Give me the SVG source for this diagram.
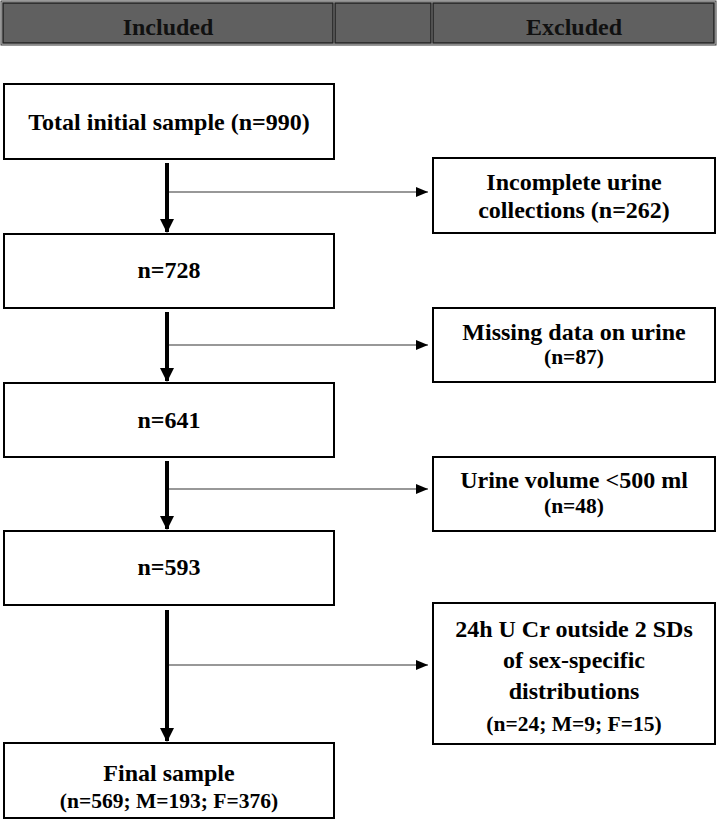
<svg xmlns="http://www.w3.org/2000/svg" width="717" height="820" viewBox="0 0 717 820">
<defs>
<style>
.box{fill:#fff;stroke:#000;stroke-width:2}
.hdr{fill:#606060;stroke:#222;stroke-width:1.5}
.t{font-family:"Liberation Serif","Times New Roman",serif;font-weight:bold;font-size:24px;fill:#000;text-anchor:middle}
.s{font-size:21.5px}
.h{font-family:"Liberation Serif","Times New Roman",serif;font-weight:bold;font-size:24px;fill:#111;text-anchor:middle}
.main{stroke:#000;stroke-width:4;fill:none}
.side{stroke:#333;stroke-width:1.2;fill:none}
</style>
<marker id="big" viewBox="0 0 14 14" refX="13" refY="7" markerWidth="14" markerHeight="14" markerUnits="userSpaceOnUse" orient="auto"><path d="M0,0L14,7L0,14Z" fill="#000"/></marker>
<marker id="sm" viewBox="0 0 12 10" refX="12" refY="5" markerWidth="12" markerHeight="10" markerUnits="userSpaceOnUse" orient="auto"><path d="M0,0L12,5L0,10Z" fill="#000"/></marker>
</defs>
<g id="header">
<rect x="1" y="1" width="715" height="44" fill="#e0e0e0" stroke="#333" stroke-width="1"/>
<rect class="hdr" x="3" y="3" width="330" height="40"/>
<rect class="hdr" x="335" y="3" width="96" height="40"/>
<rect class="hdr" x="433" y="3" width="281" height="40"/>
<text class="h" x="168" y="35">Included</text>
<text class="h" x="574" y="35">Excluded</text>
</g>
<g id="connectors">
<path class="main" d="M167,163V232" marker-end="url(#big)"/>
<path class="main" d="M167,312V381" marker-end="url(#big)"/>
<path class="main" d="M167,461V529" marker-end="url(#big)"/>
<path class="main" d="M167,610V741" marker-end="url(#big)"/>
<path class="side" d="M169,192H428" marker-end="url(#sm)"/>
<path class="side" d="M169,345H428" marker-end="url(#sm)"/>
<path class="side" d="M169,489H428" marker-end="url(#sm)"/>
<path class="side" d="M169,665H428" marker-end="url(#sm)"/>
</g>
<g id="n1"><rect class="box" x="4" y="84" width="330" height="75"/><text class="t" x="169" y="130">Total initial sample (n=990)</text></g>
<g id="n2"><rect class="box" x="4" y="234" width="330" height="74"/><text class="t" x="169" y="278">n=728</text></g>
<g id="n3"><rect class="box" x="4" y="383" width="330" height="74"/><text class="t" x="169" y="428">n=641</text></g>
<g id="n4"><rect class="box" x="4" y="531" width="330" height="74"/><text class="t" x="169" y="575">n=593</text></g>
<g id="n5"><rect class="box" x="4" y="743" width="330" height="75"/><text class="t" x="169" y="781">Final sample</text><text class="t s" x="169" y="808">(n=569; M=193; F=376)</text></g>
<g id="e1"><rect class="box" x="433" y="158" width="282" height="75"/><text class="t" x="574" y="190">Incomplete urine</text><text class="t" x="574" y="218">collections (n=262)</text></g>
<g id="e2"><rect class="box" x="433" y="308" width="282" height="74"/><text class="t" x="574" y="340">Missing data on urine</text><text class="t s" x="574" y="364">(n=87)</text></g>
<g id="e3"><rect class="box" x="433" y="457" width="282" height="74"/><text class="t" x="574" y="488">Urine volume &lt;500 ml</text><text class="t s" x="574" y="513">(n=48)</text></g>
<g id="e4"><rect class="box" x="433" y="603" width="282" height="141"/><text class="t" x="574" y="637">24h U Cr outside 2 SDs</text><text class="t" x="574" y="668">of sex-specific</text><text class="t" x="574" y="699">distributions</text><text class="t s" x="574" y="731">(n=24; M=9; F=15)</text></g>
</svg>
